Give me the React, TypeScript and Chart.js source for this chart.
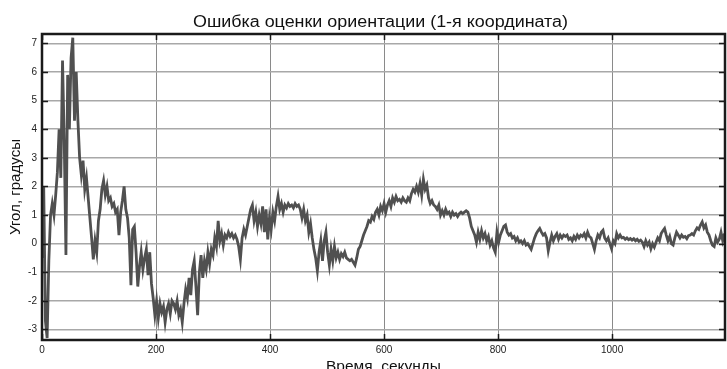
import React, { useEffect, useRef } from "react";
import { Chart, registerables } from "chart.js";

Chart.register(...registerables);

// Orientation error, first coordinate, degrees, one sample every SAMPLE_STEP_S seconds
const SAMPLE_STEP_S = 3;
const errorDeg: number[] = [
  -0.5, 2.0, -2.7, -3.3, -0.6, 1.0, 1.4, 1.0, 1.7, 2.5,
  4.0, 2.3, 6.4, 3.6, -0.4, 5.9, 4.0, 6.5, 7.2, 4.3,
  6.0, 4.3, 3.0, 2.4, 2.9, 1.9, 2.3, 1.6, 0.9, 0.2,
  -0.55, 0.1, -0.3, 0.8, 1.2, 1.9, 2.2, 1.7, 2.0, 1.5,
  1.6, 1.3, 1.4, 1.1, 1.2, 0.3, 1.1, 1.5, 2.0, 1.2,
  0.9, 0.2, -1.45, 0.5, 0.6, -0.3, -1.5, -0.8, -0.3, -0.9,
  -0.5, -0.2, -1.1, -0.3, -1.4, -1.9, -2.5, -2.0, -2.6, -2.1,
  -2.4, -2.2, -2.75, -2.3, -2.1, -2.45, -2.0, -2.1, -2.3, -2.0,
  -2.5, -2.3, -2.75, -2.1, -1.6, -1.9, -1.2, -1.8, -0.9, -0.6,
  -1.5, -2.5, -1.0, -0.4, -1.2, -0.6, -0.9, -0.3, -0.7, -0.2,
  -0.4, 0.2, -0.1, 0.8, 0.1, 0.35, -0.05, 0.3, 0.2, 0.4,
  0.25, 0.35, 0.2, 0.3, 0.15, -0.1, -0.55, 0.2, 0.5, 0.3,
  0.6, 0.9, 1.2, 1.35, 0.8, 1.1, 0.6, 1.0, 0.7, 1.3,
  0.4, 1.2, 0.15, 0.9, 0.5, 1.1, 0.8, 1.3, 1.65, 1.2,
  1.4, 1.1, 1.35, 1.25, 1.4, 1.3, 1.35, 1.25, 1.4, 1.3,
  1.35, 1.2, 0.9, 1.2, 0.8, 1.0, 0.4, 0.7, 0.2, -0.2,
  -0.5, -0.95, -0.3, 0.1, -0.6, 0.1, 0.4, -0.3, -0.75, -0.2,
  -0.6, -0.1, -0.5, -0.3, -0.55, -0.35, -0.45, -0.3, -0.5, -0.55,
  -0.6, -0.55, -0.65, -0.75, -0.5, -0.2, -0.1, 0.1, 0.3, 0.45,
  0.6, 0.8, 0.75, 0.95, 0.85, 1.1, 1.2, 1.0, 1.3, 1.15,
  1.4, 1.1, 1.35, 1.5, 1.3, 1.6, 1.45, 1.65, 1.5, 1.55,
  1.45, 1.6, 1.5, 1.45, 1.6, 1.5, 1.75, 1.9, 1.8, 2.0,
  1.8, 2.1, 1.7, 2.25, 1.9, 2.05, 1.6, 1.4, 1.5, 1.35,
  1.3, 1.2, 1.35, 1.0, 1.15, 1.0, 1.2, 1.05, 1.1, 0.95,
  1.1, 1.0, 1.05, 0.95, 1.05, 1.1, 1.05, 1.1, 1.15, 1.1,
  0.9, 0.6, 0.45, 0.3, 0.05, 0.4, 0.15, 0.45, 0.2, 0.35,
  0.1, 0.25, -0.05, 0.1, -0.15, -0.3, 0.4, 0.05, 0.3, 0.45,
  0.6, 0.65, 0.4, 0.3, 0.35, 0.2, 0.25, 0.1, 0.2, 0.05,
  0.1, 0.0, 0.1, -0.05, 0.0, -0.1, -0.2, 0.0, 0.2, 0.35,
  0.45, 0.53, 0.4, 0.3, 0.35, 0.2, -0.25, 0.05, 0.3, 0.1,
  0.25, 0.35, 0.15, 0.3, 0.2, 0.3, 0.25, 0.3, 0.15, 0.2,
  0.1, 0.25, 0.15, 0.3, 0.2, 0.3, 0.25, 0.35, 0.2, 0.4,
  0.25, 0.2, 0.0, -0.2, 0.1, 0.3, 0.2, 0.4, 0.47, 0.2,
  0.1, 0.2, 0.0, -0.18, 0.1, 0.0, 0.35, 0.2, 0.3, 0.2,
  0.22, 0.15, 0.2, 0.14, 0.18, 0.12, 0.17, 0.1, 0.15, 0.08,
  0.12, 0.05, -0.1, 0.1, -0.05, 0.05, -0.18, 0.0, -0.12, 0.05,
  0.2, 0.1, 0.35, 0.45, 0.53, 0.3, 0.1, 0.25, 0.0, -0.05,
  0.2, 0.4, 0.3, 0.2, 0.3, 0.22, 0.25, 0.17, 0.28, 0.3,
  0.35, 0.3, 0.45, 0.55, 0.5, 0.65, 0.76, 0.55, 0.65, 0.4,
  0.3, 0.1, -0.05, -0.1, 0.2, 0.05, 0.15, 0.4, 0.1, 0.35,
];

const X_TICKS = [0, 200, 400, 600, 800, 1000];
const Y_TICKS = [-3, -2, -1, 0, 1, 2, 3, 4, 5, 6, 7];
const X_RANGE = [0, 1198];
const Y_RANGE = [-3.37, 7.33];

const TITLE = "Ошибка оценки ориентации (1-я координата)";
const X_TITLE = "Время, секунды";
const Y_TITLE = "Угол, градусы";

const FONT = "'Liberation Sans', Arial, Helvetica, sans-serif";
const W = 727;
const H = 369;

// Draws text centred on (x, y), stretched horizontally to the given width
function fillStretched(ctx: CanvasRenderingContext2D, text: string, x: number, y: number, width: number) {
  const natural = ctx.measureText(text).width;
  ctx.save();
  ctx.translate(x, y);
  ctx.scale(width / natural, 1);
  ctx.fillText(text, 0, 0);
  ctx.restore();
}

// Box frame, inward ticks on all four sides, and the text around the axes
const framePlugin = {
  id: "frameAndTitles",
  afterDatasetsDraw(chart: any) {
    const { ctx, chartArea: a, scales } = chart;
    ctx.save();
    ctx.strokeStyle = "#1a1a1a";
    ctx.lineWidth = 1.5;
    const seg = (x1: number, y1: number, x2: number, y2: number) => {
      ctx.beginPath();
      ctx.moveTo(x1, y1);
      ctx.lineTo(x2, y2);
      ctx.stroke();
    };
    for (const v of X_TICKS) {
      const x = Math.round(scales.x.getPixelForValue(v)) + 0.5;
      seg(x, a.top, x, a.top + 6);
      seg(x, a.bottom, x, a.bottom - 6);
    }
    for (const v of Y_TICKS) {
      const y = Math.round(scales.y.getPixelForValue(v)) + 0.5;
      seg(a.left, y, a.left + 6, y);
      seg(a.right, y, a.right - 6, y);
    }
    ctx.lineWidth = 2.5;
    ctx.strokeRect(a.left, a.top, a.right - a.left, a.bottom - a.top);
    ctx.restore();
  },
  afterDraw(chart: any) {
    const { ctx, chartArea: a } = chart;
    const cx = (a.left + a.right) / 2;
    const cy = (a.top + a.bottom) / 2;
    ctx.save();
    ctx.fillStyle = "#111";
    ctx.textAlign = "center";
    ctx.textBaseline = "alphabetic";
    ctx.font = `16px ${FONT}`;
    fillStretched(ctx, TITLE, cx - 3, 26.5, 375);
    ctx.font = `15px ${FONT}`;
    fillStretched(ctx, X_TITLE, cx, 370.5, 115);
    ctx.translate(20, cy);
    ctx.rotate(-Math.PI / 2);
    fillStretched(ctx, Y_TITLE, 0, 0, 96);
    ctx.restore();
  },
};

export default function App() {
  const canvasRef = useRef<HTMLCanvasElement | null>(null);

  useEffect(() => {
    const canvas = canvasRef.current;
    if (!canvas) return;
    const points = errorDeg.map((v, i) => ({ x: i * SAMPLE_STEP_S, y: v }));
    const chart = new Chart(canvas, {
      type: "line",
      data: {
        datasets: [
          {
            data: points,
            borderColor: "#505050",
            borderWidth: 2.8,
            pointRadius: 0,
            tension: 0,
            fill: false,
          },
        ],
      },
      options: {
        responsive: false,
        animation: false,
        events: [],
        layout: { padding: { top: 34, right: 2, left: 0, bottom: 0 } },
        plugins: {
          legend: { display: false },
          title: { display: false },
          tooltip: { enabled: false },
        },
        scales: {
          x: {
            type: "linear",
            min: X_RANGE[0],
            max: X_RANGE[1],
            afterBuildTicks: (scale: any) => {
              scale.ticks = X_TICKS.map((value) => ({ value }));
            },
            afterFit: (scale: any) => {
              scale.height = 29;
            },
            grid: { color: "#8a8a8a", lineWidth: 1, drawTicks: false },
            border: { display: false },
            ticks: {
              color: "#222",
              font: { family: FONT, size: 10 },
              padding: 4,
              maxRotation: 0,
              autoSkip: false,
              callback: (value: any) => String(value),
            },
          },
          y: {
            type: "linear",
            min: Y_RANGE[0],
            max: Y_RANGE[1],
            afterBuildTicks: (scale: any) => {
              scale.ticks = Y_TICKS.map((value) => ({ value }));
            },
            afterFit: (scale: any) => {
              scale.width = 42;
            },
            grid: { color: "#a8a8a8", lineWidth: 1.5, drawTicks: false },
            border: { display: false },
            ticks: {
              color: "#222",
              font: { family: FONT, size: 10 },
              padding: 5,
              autoSkip: false,
              callback: (value: any) => String(value),
            },
          },
        },
      },
      plugins: [framePlugin],
    });
    return () => chart.destroy();
  }, []);

  return (
    <div
      style={{
        position: "fixed",
        left: 0,
        top: 0,
        width: W,
        height: H,
        background: "#fff",
        overflow: "hidden",
      }}
    >
      <canvas ref={canvasRef} width={W} height={H} />
    </div>
  );
}
